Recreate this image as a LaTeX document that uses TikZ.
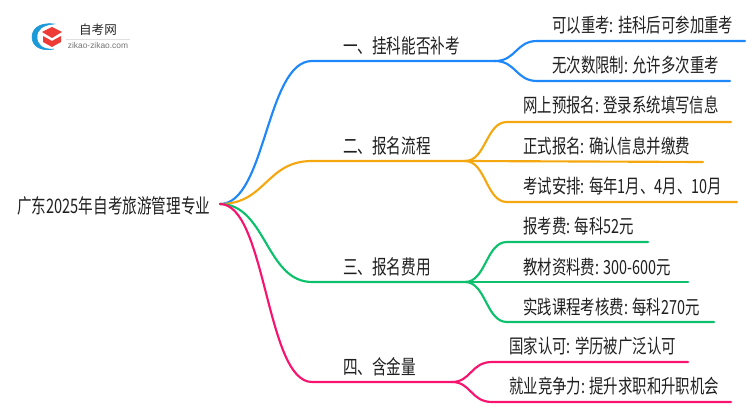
\documentclass[tikz,border=0pt]{standalone}
\usepackage{fontspec}
\setmainfont{Noto Sans CJK SC}
\setsansfont{Liberation Sans}
\definecolor{blueline}{HTML}{1E88FA}
\definecolor{orangeline}{HTML}{F5A70F}
\definecolor{greenline}{HTML}{0CC06C}
\definecolor{pinkline}{HTML}{F8146E}
\definecolor{logoblue}{HTML}{1C9AD8}
\definecolor{logored}{HTML}{EE3B36}
\tikzset{
    conn/.style={line width=1.6pt,line cap=round},
    txt/.style={inner sep=0pt,anchor=base west,text=black!88,font=\fontsize{14.6}{16}\selectfont,xscale=.74,transform shape},
    mid/.style={inner sep=0pt,anchor=base west,text=black!88,font=\fontsize{15}{16}\selectfont,xscale=.73,transform shape},
}
\begin{document}
\begin{tikzpicture}[x=.75pt,y=-.75pt]
    \useasboundingbox (0,0) rectangle (750,410);
    % logo
    \draw[logoblue,fill=logoblue] (54,24) .. controls (38,22) and (32,30) .. (32,37) .. controls (32,45) and (39,52) .. (54,49) .. controls (43,50) and (37,45) .. (37,37) .. controls (37,29) and (43,25) .. (54,24) -- cycle;
    \fill[logored] (52,27) -- (62,32) -- (52,38) -- (42,32) -- cycle;
    \fill[logored] (43,36) -- (52,41) -- (61,36) -- (61,42) -- (52,47) -- (43,42) -- cycle;
    \node[inner sep=0pt,font=\fontsize{9.4}{10}\selectfont,text=black!85] (logotitle) at (98,30) {自考网};
    \draw[black!12,line width=.5pt] (66,39.5) -- (130,39.5);
    \node[inner sep=0pt,font=\sffamily\fontsize{6.3}{7}\selectfont,text=black!55] (logourl) at (98,45) {zikao-zikao.com};

    \node[mid] (root) at (17,213) {广东2025年自考旅游管理专业};
    \coordinate (rootout) at (220,204);

    \node[mid] (b1) at (343,54) {一、挂科能否补考};
    \node[mid] (b2) at (343,153) {二、报名流程};
    \node[mid] (b3) at (343,274) {三、报名费用};
    \node[mid] (b4) at (343,374) {四、含金量};
    \coordinate (b1s) at (312,61);
    \coordinate (b2s) at (312,161);
    \coordinate (b3s) at (312,282);
    \coordinate (b4s) at (312,382);
    \coordinate (b1e) at (495,61);
    \coordinate (b2e) at (465,161);
    \coordinate (b3e) at (465,282);
    \coordinate (b4e) at (452,382);

    \draw[conn,blueline] (rootout) .. controls (266,204) and (266,61) .. (b1s) -- (b1e);
    \draw[conn,orangeline] (rootout) .. controls (266,204) and (266,161) .. (b2s) -- (b2e);
    \draw[conn,greenline] (rootout) .. controls (266,204) and (266,282) .. (b3s) -- (b3e);
    \draw[conn,pinkline] (rootout) .. controls (266,204) and (266,382) .. (b4s) -- (b4e);

    \node[txt] (l11) at (552,33) {可以重考: 挂科后可参加重考};
    \node[txt] (l12) at (552,73) {无次数限制: 允许多次重考};
    \node[txt] (l21) at (523,113) {网上预报名: 登录系统填写信息};
    \node[txt] (l22) at (523,153) {正式报名: 确认信息并缴费};
    \node[txt] (l23) at (523,193) {考试安排: 每年1月、4月、10月};
    \node[txt] (l31) at (523,233) {报考费: 每科52元};
    \node[txt] (l32) at (523,274) {教材资料费: 300-600元};
    \node[txt] (l33) at (523,314) {实践课程考核费: 每科270元};
    \node[txt] (l41) at (509,353) {国家认可: 学历被广泛认可};
    \node[txt] (l42) at (509,393) {就业竞争力: 提升求职和升职机会};

    \coordinate (l11e) at (745,41);
    \coordinate (l12e) at (730,81);
    \coordinate (l21e) at (731,122);
    \coordinate (l22e) at (703,162);
    \coordinate (l23e) at (737,202);
    \coordinate (l31e) at (648,242);
    \coordinate (l32e) at (688,282);
    \coordinate (l33e) at (714,322);
    \coordinate (l41e) at (688,362);
    \coordinate (l42e) at (731,402);

    \draw[conn,blueline] (b1e) .. controls (516,61) and (516,41) .. (537,41) -- (l11e);
    \draw[conn,blueline] (b1e) .. controls (516,61) and (516,81) .. (537,81) -- (l12e);
    \draw[conn,orangeline] (b2e) .. controls (486,161) and (486,122) .. (507,122) -- (l21e);
    \draw[conn,orangeline] (b2e) -- (l22e);
    \draw[conn,orangeline] (b2e) .. controls (486,161) and (486,202) .. (507,202) -- (l23e);
    \draw[conn,greenline] (b3e) .. controls (486,282) and (486,242) .. (507,242) -- (l31e);
    \draw[conn,greenline] (b3e) -- (l32e);
    \draw[conn,greenline] (b3e) .. controls (486,282) and (486,322) .. (507,322) -- (l33e);
    \draw[conn,pinkline] (b4e) .. controls (471,382) and (471,362) .. (492,362) -- (l41e);
    \draw[conn,pinkline] (b4e) .. controls (471,382) and (471,402) .. (492,402) -- (l42e);
\end{tikzpicture}
\end{document}
